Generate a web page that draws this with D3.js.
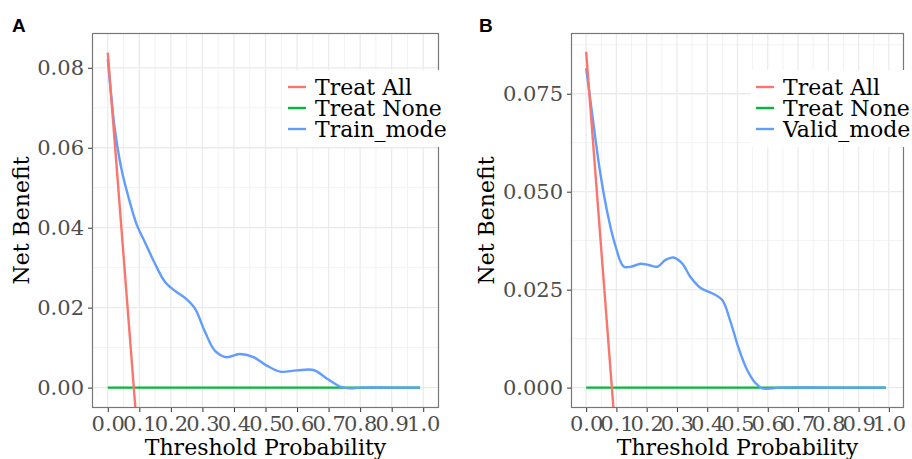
<!DOCTYPE html>
<html>
<head>
<meta charset="utf-8">
<script src="https://cdn.jsdelivr.net/npm/d3@7"></script>
<style>
  body { margin: 0; background: #fff; }
  svg { display: block; }
</style>
</head>
<body>
<div id="chart"></div>
<script>
// threshold ticks
const xTicks = [0, 0.1, 0.2, 0.3, 0.4, 0.5, 0.6, 0.7, 0.8, 0.9, 1.0];
const legendNames = ["Treat All", "Treat None"];
const colors = ["#F8766D", "#00BA38", "#619CFF"];

// panel A - training
const trainAll = [[0, 0.0838], [0.09, -0.0076]];
const trainNone = [[0, 0], [0.99, 0]];
const trainModel = [
  [0, 0.0822], [0.022, 0.0649], [0.043, 0.0548], [0.065, 0.0478], [0.092, 0.0407],
  [0.117, 0.0365], [0.149, 0.0311], [0.181, 0.0265], [0.213, 0.0242], [0.244, 0.0225],
  [0.276, 0.0198], [0.308, 0.0140], [0.340, 0.0092], [0.377, 0.0076], [0.417, 0.0084],
  [0.460, 0.0077], [0.504, 0.0055], [0.546, 0.0040], [0.599, 0.0043], [0.652, 0.0044],
  [0.694, 0.0023], [0.742, 0.0001], [0.77, -0.0002], [0.80, 0], [0.9, 0], [0.99, 0]
];
const trainYTicks = [0, 0.02, 0.04, 0.06, 0.08];

// panel B - validation
const validAll = [[0, 0.0857], [0.095, -0.0101]];
const validNone = [[0, 0], [0.99, 0]];
const validModel = [
  [0, 0.0815], [0.019, 0.0704], [0.046, 0.0551], [0.074, 0.0432], [0.096, 0.0364],
  [0.124, 0.0309], [0.151, 0.0309], [0.179, 0.0316], [0.206, 0.0313], [0.237, 0.0309],
  [0.262, 0.0326], [0.289, 0.0332], [0.317, 0.0317], [0.344, 0.0283], [0.377, 0.0255],
  [0.416, 0.0241], [0.449, 0.0224], [0.477, 0.0168], [0.504, 0.0100], [0.532, 0.0045],
  [0.560, 0.0011], [0.582, -0.0002], [0.60, -0.0003], [0.64, 0], [0.8, 0], [0.99, 0]
];
const validYTicks = [0, 0.025, 0.05, 0.075];

const W = 912, H = 459;
const svg = d3.select("#chart").append("svg")
  .attr("width", W)
  .attr("height", H);

const font = "'DejaVu Serif', serif";

function panel(opt) {
  const g = svg.append("g");
  const x = d3.scaleLinear().domain([-0.05, 1.05]).range([opt.left, opt.right]);
  const y = d3.scaleLinear().domain(opt.yDomain).range([opt.bottom, opt.top]);

  // grid (minor then major)
  const minorX = d3.range(0.05, 1.0, 0.1);
  const minorY = opt.yTicks.slice(0, -1).map((d, i) => (d + opt.yTicks[i + 1]) / 2);
  minorY.push(opt.yTicks[opt.yTicks.length - 1] + (opt.yTicks[1] - opt.yTicks[0]) / 2);

  g.append("rect")
    .attr("x", opt.left).attr("y", opt.top)
    .attr("width", opt.right - opt.left).attr("height", opt.bottom - opt.top)
    .attr("fill", "#fff");

  g.selectAll(".gxm").data(minorX).enter().append("line")
    .attr("x1", d => x(d)).attr("x2", d => x(d))
    .attr("y1", opt.top).attr("y2", opt.bottom)
    .attr("stroke", "#F2F2F2").attr("stroke-width", 1);
  g.selectAll(".gym").data(minorY.filter(d => y(d) > opt.top)).enter().append("line")
    .attr("y1", d => y(d)).attr("y2", d => y(d))
    .attr("x1", opt.left).attr("x2", opt.right)
    .attr("stroke", "#F2F2F2").attr("stroke-width", 1);
  g.selectAll(".gx").data(xTicks).enter().append("line")
    .attr("x1", d => x(d)).attr("x2", d => x(d))
    .attr("y1", opt.top).attr("y2", opt.bottom)
    .attr("stroke", "#EBEBEB").attr("stroke-width", 1.3);
  g.selectAll(".gy").data(opt.yTicks).enter().append("line")
    .attr("y1", d => y(d)).attr("y2", d => y(d))
    .attr("x1", opt.left).attr("x2", opt.right)
    .attr("stroke", "#EBEBEB").attr("stroke-width", 1.3);

  const clipId = "clip" + opt.id;
  svg.append("clipPath").attr("id", clipId).append("rect")
    .attr("x", opt.left).attr("y", opt.top)
    .attr("width", opt.right - opt.left).attr("height", opt.bottom - opt.top);

  const straight = d3.line().x(d => x(d[0])).y(d => y(d[1]));
  const smooth = d3.line().x(d => x(d[0])).y(d => y(d[1])).curve(d3.curveCatmullRom.alpha(0.5));

  const lines = g.append("g").attr("clip-path", `url(#${clipId})`);
  lines.append("path").datum(opt.none).attr("d", straight)
    .attr("fill", "none").attr("stroke", colors[1]).attr("stroke-width", 2.4);
  lines.append("path").datum(opt.model).attr("d", smooth)
    .attr("fill", "none").attr("stroke", colors[2]).attr("stroke-width", 2.4);
  lines.append("path").datum(opt.all).attr("d", straight)
    .attr("fill", "none").attr("stroke", colors[0]).attr("stroke-width", 2.4);

  // border
  g.append("rect")
    .attr("x", opt.left + 0.5).attr("y", opt.top + 0.5)
    .attr("width", opt.right - opt.left - 1).attr("height", opt.bottom - opt.top - 1)
    .attr("fill", "none").attr("stroke", "#777").attr("stroke-width", 1.2);

  // axes
  const xAxis = g.append("g").attr("transform", `translate(0,${opt.bottom})`)
    .call(d3.axisBottom(x).tickValues(xTicks).tickFormat(d3.format(".1f")).tickSize(4).tickPadding(4));
  const yAxis = g.append("g").attr("transform", `translate(${opt.left},0)`)
    .call(d3.axisLeft(y).tickValues(opt.yTicks).tickFormat(d3.format(opt.yFmt)).tickSize(4).tickPadding(4));
  [xAxis, yAxis].forEach(a => {
    a.select(".domain").remove();
    a.selectAll(".tick line").attr("stroke", "#333");
    a.selectAll("text").attr("font-family", font).attr("font-size", 21).attr("fill", "#4D4D4D");
  });

  g.append("text")
    .attr("x", (opt.left + opt.right) / 2).attr("y", 455)
    .attr("text-anchor", "middle")
    .attr("font-family", font).attr("font-size", 22)
    .text("Threshold Probability");
  g.append("text")
    .attr("transform", `translate(${opt.yTitleX},${(opt.top + opt.bottom) / 2}) rotate(-90)`)
    .attr("text-anchor", "middle")
    .attr("font-family", font).attr("font-size", 22)
    .text("Net Benefit");

  // legend
  const names = legendNames.concat([opt.modelName]);
  const lg = g.append("g");
  lg.append("rect")
    .attr("x", opt.legX).attr("y", 70)
    .attr("width", 175).attr("height", 77)
    .attr("fill", "#fff");
  names.forEach((n, i) => {
    const cy = 87 + i * 21;
    lg.append("line")
      .attr("x1", opt.legX + 5).attr("x2", opt.legX + 23)
      .attr("y1", cy).attr("y2", cy)
      .attr("stroke", colors[i]).attr("stroke-width", 2.4);
    lg.append("text")
      .attr("x", opt.legX + 32).attr("y", cy + 7.5)
      .attr("font-family", font).attr("font-size", 22)
      .text(n);
  });

  svg.append("text")
    .attr("x", opt.tagX).attr("y", 32)
    .attr("font-family", "'Liberation Sans', Arial, sans-serif")
    .attr("font-weight", "bold").attr("font-size", 19)
    .text(opt.id);
}

panel({
  id: "A", left: 92, right: 439, top: 33, bottom: 408,
  yDomain: [-0.0051, 0.0887], yTicks: trainYTicks, yFmt: ".2f",
  all: trainAll, none: trainNone, model: trainModel, modelName: "Train_mode",
  legX: 283, yTitleX: 29, tagX: 12
});

panel({
  id: "B", left: 571, right: 904, top: 33, bottom: 408,
  yDomain: [-0.0052, 0.0905], yTicks: validYTicks, yFmt: ".3f",
  all: validAll, none: validNone, model: validModel, modelName: "Valid_mode",
  legX: 751, yTitleX: 494, tagX: 479
});
</script>
</body>
</html>
